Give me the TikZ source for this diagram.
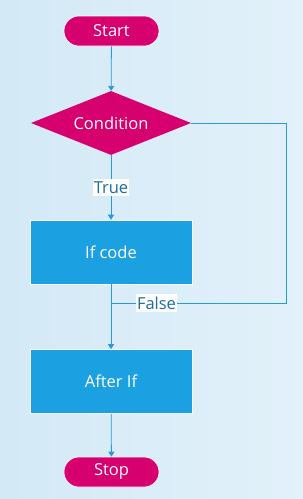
\documentclass[tikz,border=0pt]{standalone}
\usepackage{fontspec}
\setmainfont{Open Sans}
\usetikzlibrary{shapes.geometric,shapes.misc,arrows.meta}
\definecolor{mag}{HTML}{D6006E}
\definecolor{boxblue}{HTML}{1BA1E2}
\definecolor{linec}{HTML}{2A9AD4}
\definecolor{labc}{HTML}{1B6E9E}
\definecolor{bgA}{HTML}{D3E9F6}
\definecolor{bgB}{HTML}{E2F1FA}
\begin{document}
\begin{tikzpicture}[x=1pt,y=-1pt,
  txt/.style={font=\fontsize{16.5}{18}\selectfont},
  term/.style={txt, rounded rectangle, fill=mag, draw=white, line width=0.6pt, minimum width=95pt, minimum height=30pt, inner sep=0pt, text=white},
  cond/.style={txt, diamond, fill=mag, draw=none, aspect=2.5, minimum width=160pt, minimum height=64pt, inner sep=0pt, text=white},
  proc/.style={txt, rectangle, fill=boxblue, draw=white, line width=0.6pt, minimum width=162pt, minimum height=64pt, inner sep=0pt, text=white},
  conn/.style={draw=linec, line width=0.8pt},
  arr/.style={conn, -{Triangle[width=6pt,length=5pt]}},
  lab/.style={txt, fill=white, text=labc, inner xsep=1pt, inner ysep=2.5pt}
]
\shade[left color=bgA, right color=bgB] (0,0) rectangle (303,499);
\useasboundingbox (0,0) rectangle (303,499);
\node[term] (start) at (111.5,31) {Start};
\node[cond] (cond) at (111,123) {Condition};
\node[proc] (ifc) at (111,252) {If code};
\node[proc] (after) at (111,381.5) {After If};
\node[term] (stop) at (111.5,472) {Stop};
\coordinate (r1) at (286,123);
\coordinate (r2) at (286,303);
\coordinate (m) at (111,303);
\draw[arr] (start) -- (cond);
\draw[arr] (cond) -- node[lab, pos=0.5]{True} (ifc);
\draw[arr] (ifc) -- (after);
\draw[conn] (cond.east) -- (r1) -- (r2) -- node[lab, pos=0.74]{False} (m);
\draw[arr] (after) -- (stop);
\end{tikzpicture}
\end{document}
